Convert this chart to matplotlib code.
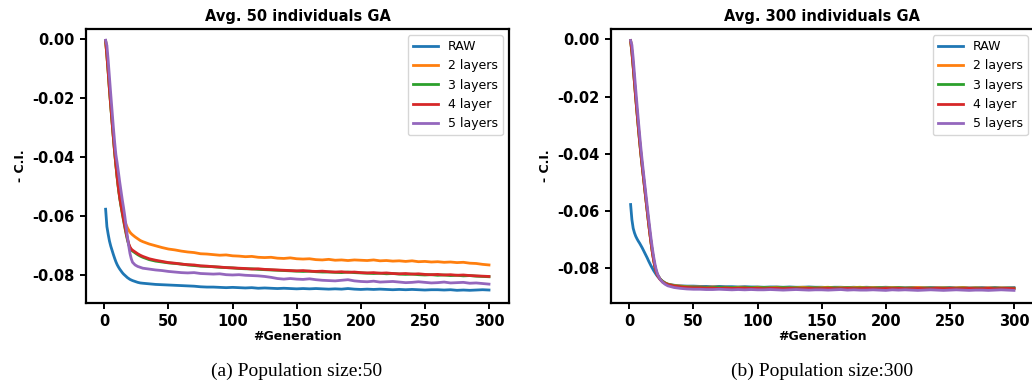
import matplotlib
matplotlib.use("Agg")
import matplotlib.pyplot as plt
import numpy as np

# Generations at which the averaged fitness was recorded
GENERATIONS = list(range(1, 23)) + [24, 26, 28, 30] + list(range(35, 301, 5))

SERIES_LABELS = ["RAW", "2 layers", "3 layers", "4 layer", "5 layers"]
SCALE = -1e-4  # values below are stored as |C.I.| in units of 1e-4

# ---- population size 50 ----
raw_50 = [577, 636, 662, 685, 702, 716, 730, 743, 755, 765, 773, 780, 786, 792, 797, 801,
          805, 809, 812, 815, 817, 819,
          822, 825, 827, 828,
          830, 832, 833, 834, 835, 836, 837, 838, 840, 841,
          841, 842, 843, 842, 843, 844, 843, 845, 844, 845,
          846, 845, 846, 847, 846, 847, 846, 847, 848, 847,
          848, 846, 848, 849, 848, 849, 848, 849, 850, 849,
          850, 849, 850, 851, 850, 850, 851, 850, 852, 851,
          852, 851, 850, 851]
l2_50 = [6, 55, 110, 170, 225, 278, 330, 380, 425, 468, 505, 537, 563, 585, 603, 618,
         630, 640, 648, 655, 660, 664,
         671, 677, 683, 687,
         695, 701, 707, 712, 715, 719, 722, 724, 728, 729,
         731, 733, 732, 735, 736, 738, 737, 740, 741, 740,
         743, 744, 742, 745, 746, 745, 748, 749, 747, 750,
         749, 751, 749, 750, 751, 749, 752, 751, 753, 752,
         754, 752, 755, 754, 756, 755, 757, 756, 758, 757,
         760, 761, 764, 766]
l3_50 = [6, 56, 112, 173, 228, 281, 333, 383, 428, 470, 508, 540, 567, 592, 616, 639,
         661, 681, 697, 708, 715, 719,
         725, 731, 736, 740,
         748, 753, 756, 759, 761, 763, 766, 768, 770, 771,
         772, 774, 775, 776, 778, 779, 779, 781, 782, 783,
         784, 785, 786, 787, 788, 787, 789, 790, 790, 791,
         792, 790, 792, 793, 794, 795, 794, 796, 795, 797,
         798, 797, 799, 800, 799, 801, 800, 802, 801, 803,
         802, 804, 805, 806]
l4_50 = [6, 55, 110, 170, 225, 278, 330, 380, 425, 468, 505, 537, 563, 588, 612, 635,
         657, 677, 694, 705, 712, 716,
         722, 728, 733, 737,
         745, 750, 754, 758, 760, 763, 765, 766, 769, 770,
         772, 773, 775, 776, 777, 778, 780, 779, 781, 782,
         783, 784, 785, 786, 785, 787, 788, 787, 789, 790,
         789, 791, 790, 792, 793, 792, 794, 793, 795, 796,
         795, 797, 796, 798, 799, 798, 800, 799, 801, 800,
         802, 803, 804, 805]
l5_50 = [4, 22, 72, 130, 187, 242, 297, 348, 392, 420, 452, 485, 515, 545, 572, 602,
         636, 670, 701, 727, 745, 757,
         766, 771, 774, 777,
         780, 783, 785, 788, 790, 792, 793, 792, 795, 796,
         797, 796, 799, 800, 799, 801, 802, 803, 805, 808,
         812, 814, 812, 814, 815, 813, 816, 818, 819, 820,
         818, 816, 820, 822, 823, 821, 824, 823, 822, 824,
         826, 825, 823, 825, 827, 826, 824, 827, 826, 825,
         828, 827, 829, 831]

# ---- population size 300 ----
raw_300 = [577, 630, 660, 676, 688, 697, 705, 712, 720, 728, 737, 746, 755, 764, 774, 783,
           792, 800, 808, 815, 822, 828,
           838, 845, 851, 855,
           859, 861, 862, 862, 863, 863, 864, 863, 864, 864,
           865, 864, 865, 865, 866, 865, 865, 866, 865, 866,
           866, 865, 866, 866, 867, 866, 866, 867, 866, 867,
           866, 867, 867, 866, 867, 867, 868, 867, 867, 868,
           867, 867, 868, 867, 868, 867, 868, 868, 867, 868,
           867, 868, 868, 867]
l2_300 = [5, 42, 92, 147, 202, 253, 303, 352, 398, 440, 480, 520, 560, 600, 640, 678,
          713, 745, 772, 795, 812, 823,
          837, 846, 851, 855,
          860, 862, 864, 865, 865, 866, 865, 866, 866, 867,
          866, 866, 867, 866, 867, 867, 866, 867, 868, 867,
          866, 867, 868, 867, 866, 868, 867, 868, 867, 866,
          868, 867, 868, 868, 867, 868, 869, 868, 867, 868,
          869, 868, 868, 869, 868, 867, 869, 868, 869, 868,
          869, 868, 869, 869]
l3_300 = [5, 46, 97, 152, 207, 258, 308, 357, 402, 443, 483, 523, 563, 602, 641, 678,
          712, 744, 771, 794, 811, 823,
          837, 846, 852, 856,
          861, 864, 865, 866, 866, 867, 867, 866, 867, 867,
          868, 867, 867, 868, 867, 868, 868, 867, 868, 868,
          869, 868, 868, 869, 868, 868, 869, 868, 869, 868,
          869, 869, 868, 869, 869, 868, 869, 869, 870, 869,
          869, 870, 869, 869, 870, 869, 870, 869, 870, 870,
          869, 870, 869, 870]
l4_300 = [5, 44, 95, 150, 205, 256, 306, 355, 400, 442, 482, 522, 562, 601, 641, 679,
          713, 745, 773, 796, 813, 825,
          839, 848, 853, 857,
          862, 865, 867, 868, 868, 869, 869, 870, 869, 870,
          870, 869, 870, 870, 871, 870, 870, 871, 870, 871,
          871, 870, 871, 871, 870, 871, 871, 870, 871, 871,
          870, 871, 871, 870, 871, 870, 871, 871, 870, 871,
          871, 870, 871, 870, 871, 871, 870, 871, 871, 870,
          871, 871, 870, 871]
l5_300 = [4, 20, 66, 121, 176, 229, 281, 331, 379, 423, 464, 504, 544, 584, 623, 661,
          698, 731, 760, 785, 805, 820,
          838, 849, 856, 861,
          867, 870, 872, 873, 873, 874, 874, 873, 874, 875,
          874, 875, 874, 875, 875, 874, 875, 876, 875, 874,
          875, 876, 875, 875, 876, 875, 874, 876, 875, 876,
          876, 875, 876, 877, 875, 876, 875, 876, 877, 876,
          875, 876, 877, 876, 875, 876, 877, 876, 876, 877,
          876, 875, 876, 877]

PANELS = [
    dict(title="Avg. 50 individuals GA", caption="(a) Population size:50",
         series=[raw_50, l2_50, l3_50, l4_50, l5_50], ylim=(-0.0895, 0.0034),
         rect=[86, 29, 423, 274], cap_x=297),
    dict(title="Avg. 300 individuals GA", caption="(b) Population size:300",
         series=[raw_300, l2_300, l3_300, l4_300, l5_300], ylim=(-0.0921, 0.0036),
         rect=[611, 29, 423, 274], cap_x=822),
]

W, H = 1032, 385
fig = plt.figure(figsize=(W / 100, H / 100), dpi=100)
colors = plt.rcParams["axes.prop_cycle"].by_key()["color"]

for p in PANELS:
    x0, y0, w, h = p["rect"]
    ax = fig.add_axes([x0 / W, (H - y0 - h) / H, w / W, h / H])
    gens = np.array(GENERATIONS)
    for vals, label, c in zip(p["series"], SERIES_LABELS, colors):
        ax.plot(gens, np.array(vals) * SCALE, color=c, lw=2, label=label)
    ax.set_xlim(-14.3, 315.6)
    ax.set_ylim(*p["ylim"])
    ax.set_xticks([0, 50, 100, 150, 200, 250, 300])
    ax.set_yticks([0.0, -0.02, -0.04, -0.06, -0.08])
    ax.yaxis.set_major_formatter(matplotlib.ticker.FormatStrFormatter("%.2f"))
    for s in ax.spines.values():
        s.set_linewidth(1.6)
    ax.tick_params(width=1.4, length=4.5, labelsize=10.5)
    for t in ax.get_xticklabels() + ax.get_yticklabels():
        t.set_fontweight("bold")
    ax.set_title(p["title"], fontsize=10.5, fontweight="bold", pad=6)
    ax.set_xlabel("#Generation", fontsize=9, fontweight="bold", labelpad=0.5)
    ax.set_ylabel("- C.I.", fontsize=9, fontweight="bold")
    ax.legend(loc="upper right", fontsize=9)
    fig.text(p["cap_x"] / W, (H - 371) / H, p["caption"], ha="center", va="center",
             fontsize=14, family="Liberation Serif")

fig.savefig("out.png", dpi=100)
